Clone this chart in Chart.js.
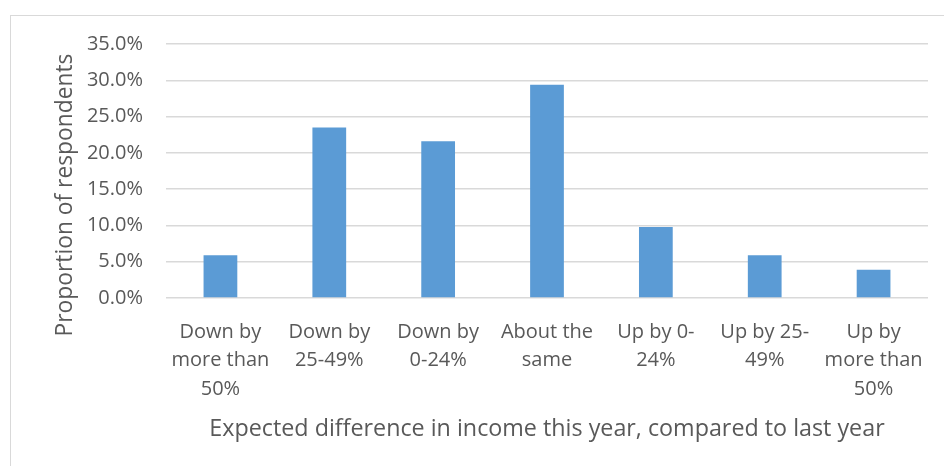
<!DOCTYPE html>
<html>
<head>
<meta charset="utf-8">
<script src="https://cdn.jsdelivr.net/npm/chart.js@4/dist/chart.umd.min.js"></script>
<style>
  html, body { margin: 0; padding: 0; background: #ffffff; }
  #wrap { position: relative; width: 944px; height: 466px; overflow: hidden; }
  #frame { position: absolute; left: 10px; top: 15px; width: 1000px; height: 500px;
           border: 1.5px solid #d9d9d9; box-sizing: border-box; }
  #c { position: absolute; left: 0; top: 0; }
</style>
</head>
<body>
<div id="wrap">
  <div id="frame"></div>
  <canvas id="c" width="944" height="466"></canvas>
</div>
<script>
// Answer categories (multi-line tick labels)
const categories = [
  ["Down by", "more than", "50%"],
  ["Down by", "25-49%"],
  ["Down by", "0-24%"],
  ["About the", "same"],
  ["Up by 0-", "24%"],
  ["Up by 25-", "49%"],
  ["Up by", "more than", "50%"]
];

// Share of respondents in each category (%)
const proportions = [5.9, 23.5, 21.6, 29.4, 9.8, 5.9, 3.9];

// Value axis range and step (%)
const yMin = 0;
const yMax = 35;
const yStep = 5;

const xTitle = "Expected difference in income this year, compared to last year";
const yTitle = "Proportion of respondents";

const textColor = "#595959";
const gridColor = "#d9d9d9";
const barColor = "#5b9bd5";
const fontFamily = "'Open Sans', sans-serif";

// Vertical axis title, drawn rotated beside the tick labels
const yTitlePlugin = {
  id: "yTitle",
  afterDraw(chart) {
    const ctx = chart.ctx;
    ctx.save();
    ctx.translate(72, 195);
    ctx.rotate(-Math.PI / 2);
    ctx.font = "22.8px " + fontFamily;
    ctx.fillStyle = textColor;
    ctx.textAlign = "center";
    ctx.textBaseline = "alphabetic";
    ctx.fillText(yTitle, 0, 0);
    ctx.restore();
  }
};

new Chart(document.getElementById("c"), {
  type: "bar",
  data: {
    labels: categories,
    datasets: [{
      data: proportions,
      backgroundColor: barColor,
      borderWidth: 0,
      barPercentage: 0.31,
      categoryPercentage: 1.0
    }]
  },
  options: {
    responsive: false,
    animation: false,
    layout: { padding: { top: 44, right: 16, bottom: 0, left: 0 } },
    plugins: { legend: { display: false }, tooltip: { enabled: false } },
    scales: {
      x: {
        grid: { display: false, drawTicks: false },
        border: { display: false },
        ticks: {
          color: textColor,
          font: { family: fontFamily, size: 20, lineHeight: 1.42 },
          padding: 20,
          maxRotation: 0,
          autoSkip: false
        },
        title: {
          display: true,
          text: xTitle,
          color: textColor,
          font: { family: fontFamily, size: 23.3 },
          padding: { top: 0, bottom: 23 }
        },
        afterFit: (scale) => { scale.height = 168; }
      },
      y: {
        min: yMin,
        max: yMax,
        grid: { color: gridColor, lineWidth: 1.4, drawTicks: false },
        border: { display: false },
        ticks: {
          stepSize: yStep,
          color: textColor,
          font: { family: fontFamily, size: 20 },
          padding: 23,
          callback: (v) => Number(v).toFixed(1) + "%"
        },
        title: { display: false },
        afterFit: (scale) => { scale.width = 166; }
      }
    }
  },
  plugins: [yTitlePlugin]
});
</script>
</body>
</html>
